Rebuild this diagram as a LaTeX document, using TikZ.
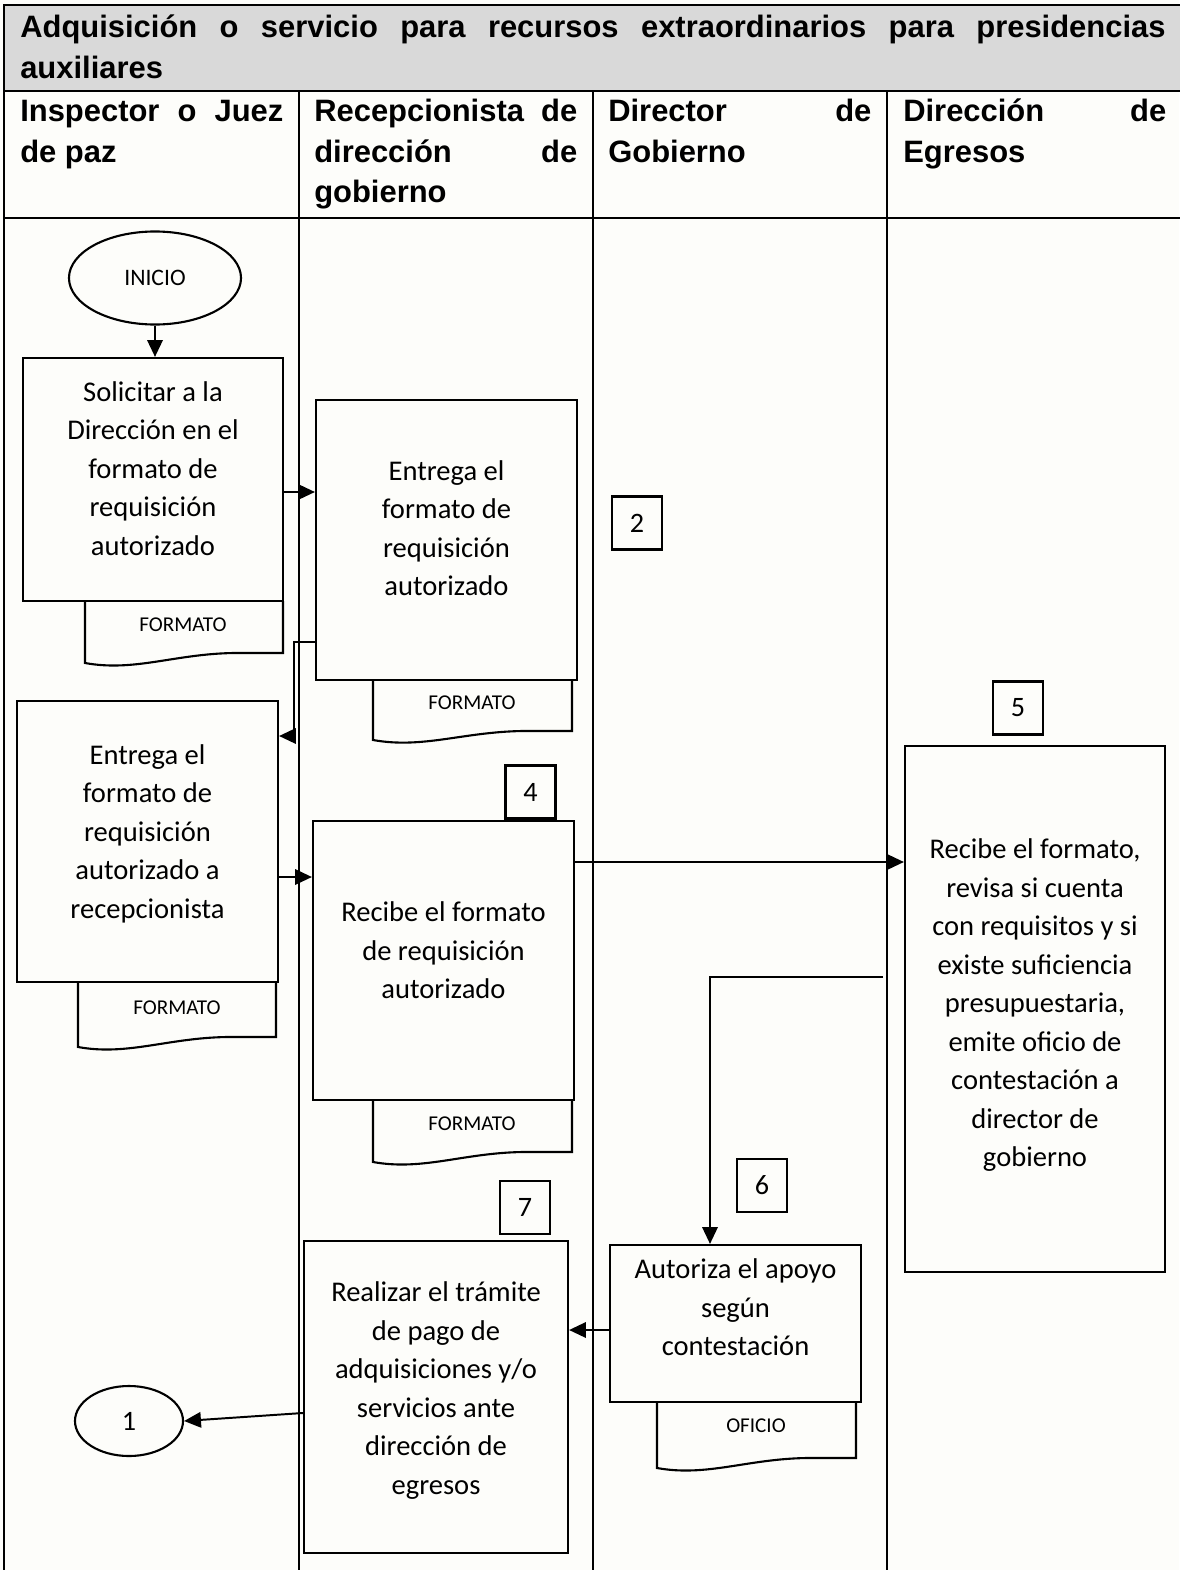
\documentclass[tikz,border=0pt]{standalone}
\usepackage{fontspec}
\setmainfont{Carlito}
\newfontfamily\headfont{Liberation Sans}
\usetikzlibrary{arrows.meta,shapes.geometric}

\definecolor{headgray}{RGB}{217,217,217}
\definecolor{paper}{RGB}{253,253,250}

% documento con borde inferior ondulado: x1, arriba, x2, abajo izq., abajo der.
\newcommand{\docshape}[5]{%
  \draw[line width=1.5pt] (#1,#2) -- (#1,#4)
    .. controls ({#1+0.25*(#3-#1)},{#4+9}) and ({#1+0.45*(#3-#1)},{#5+1}) .. ({#1+0.75*(#3-#1)},#5)
    -- (#3,#5) -- (#3,#2);}

\begin{document}
\begin{tikzpicture}[x=0.025cm, y=-0.025cm,
  box/.style={draw, line width=1.5pt, align=center, inner sep=0pt, font={\fontsize{20.3}{27.4}\selectfont}},
  numbox/.style={draw, line width=1.5pt, inner sep=0pt, minimum width=1.25cm, minimum height=1.325cm, font={\fontsize{20}{24}\selectfont}},
  doclabel/.style={inner sep=0pt, font={\fontsize{15}{18}\selectfont}},
  head/.style={anchor=base west, inner sep=0pt, align=justify, text width=6.575cm, font={\headfont\bfseries\fontsize{22}{28.5}\selectfont}},
  flow/.style={line width=1.4pt, -{Triangle[length=12pt,width=11pt]}}]
\useasboundingbox (0,0) rectangle (1179,1570);
\fill[paper] (0,0) rectangle (1179,1570);

% tabla
\fill[headgray] (4,5) rectangle (1181,91);
\draw[line width=1.3pt] (4,1575) -- (4,5) -- (1181,5) -- (1181,1575);
\draw[line width=1.3pt] (4,91) -- (1181,91);
\draw[line width=1.3pt] (4,218) -- (1181,218);
\foreach \x in {299,593,887}
  \draw[line width=1.3pt] (\x,91) -- (\x,1575);

\node (titulo) [head, text width=28.625cm] at (20,38) {Adquisición o servicio para recursos extraordinarios para presidencias\linebreak auxiliares};
\node (inspector) [head] at (20,122) {Inspector o Juez\linebreak de paz};
\node (recepcion) [head] at (314,122) {Recepcionista de\linebreak dirección de\linebreak gobierno};
\node (director) [head] at (608,122) {Director de\linebreak Gobierno};
\node (egresos) [head] at (903,122) {Dirección de\linebreak Egresos};

% documentos
\docshape{85}{601}{283}{663}{653}
\docshape{373}{680}{572}{740}{731}
\docshape{78}{982}{276}{1047}{1037}
\docshape{373}{1100}{572}{1162}{1152}
\docshape{657}{1403}{856}{1468}{1458}
\node (fmtA) [doclabel] at (183,625) {FORMATO};
\node (fmtB) [doclabel] at (472,703) {FORMATO};
\node (fmtC) [doclabel] at (177,1008) {FORMATO};
\node (fmtD) [doclabel] at (472,1124) {FORMATO};
\node (oficio) [doclabel] at (756,1426) {OFICIO};

% pasos
\node (inicio) [draw, ellipse, line width=1.5pt, minimum width=4.3cm, minimum height=2.325cm, inner sep=0pt, font={\fontsize{16.8}{20}\selectfont}] at (155,278) {INICIO};
\node (solicitar) [box, minimum width=6.5cm, minimum height=6.075cm] at (153,479.5) {Solicitar a la\\Dirección en el\\formato de\\requisición\\autorizado\\[-0.41cm]};
\node (entregaR) [box, minimum width=6.525cm, minimum height=7cm] at (446.5,540) {Entrega el\\formato de\\requisición\\autorizado\\[-0.36cm]};
\node (entregaC) [box, minimum width=6.525cm, minimum height=7.025cm] at (147.5,841.5) {Entrega el\\formato de\\requisición\\autorizado a\\recepcionista\\[-0.46cm]};
\node (recibeD) [box, minimum width=6.525cm, minimum height=6.975cm] at (443.5,960.5) {Recibe el formato\\de requisición\\autorizado\\[-0.46cm]};
\node (revisaE) [box, minimum width=6.5cm, minimum height=13.15cm] at (1035,1009) {Recibe el formato,\\revisa si cuenta\\con requisitos y si\\existe suficiencia\\presupuestaria,\\emite oficio de\\contestación a\\director de\\gobierno\\[-0.66cm]};
\node (autorizaF) [box, minimum width=6.275cm, minimum height=3.925cm] at (735.5,1323.5) {Autoriza el apoyo\\según\\contestación\\[-0.16cm]};
\node (realizarG) [box, minimum width=6.6cm, minimum height=7.8cm] at (436,1397) {Realizar el trámite\\de pago de\\adquisiciones y/o\\servicios ante\\dirección de\\egresos\\[-0.51cm]};
\node (fin) [draw, ellipse, line width=1.5pt, minimum width=2.7cm, minimum height=1.75cm, inner sep=0pt, font={\fontsize{20}{24}\selectfont}] at (129,1421) {1};

% numeros
\node (paso2) [numbox] at (637,523) {2};
\node (paso4) [numbox] at (530.5,792) {4};
\node (paso5) [numbox] at (1018,708) {5};
\node (paso6) [numbox] at (762,1185.5) {6};
\node (paso7) [numbox] at (525,1207.5) {7};

% flechas
\draw[flow] (inicio.south) -- (inicio.south |- solicitar.north);
\draw[flow] (solicitar.east |- 0,492) -- (entregaR.west |- 0,492);
\draw[flow] (entregaR.west |- 0,642) -| (294,736) -- (entregaC.east |- 0,736);
\draw[flow] (entregaC.east |- 0,877) -- (recibeD.west |- 0,877);
\draw[flow] (recibeD.east |- 0,862) -- (revisaE.west |- 0,862);
\coordinate (salidaE) at (883,977);
\draw[flow] (salidaE) -| (autorizaF.north -| 710,0);
\draw[flow] (autorizaF.west |- 0,1330) -- (realizarG.east |- 0,1330);
\draw[flow] (realizarG.west |- 0,1413) -- (fin.east);
\end{tikzpicture}
\end{document}
